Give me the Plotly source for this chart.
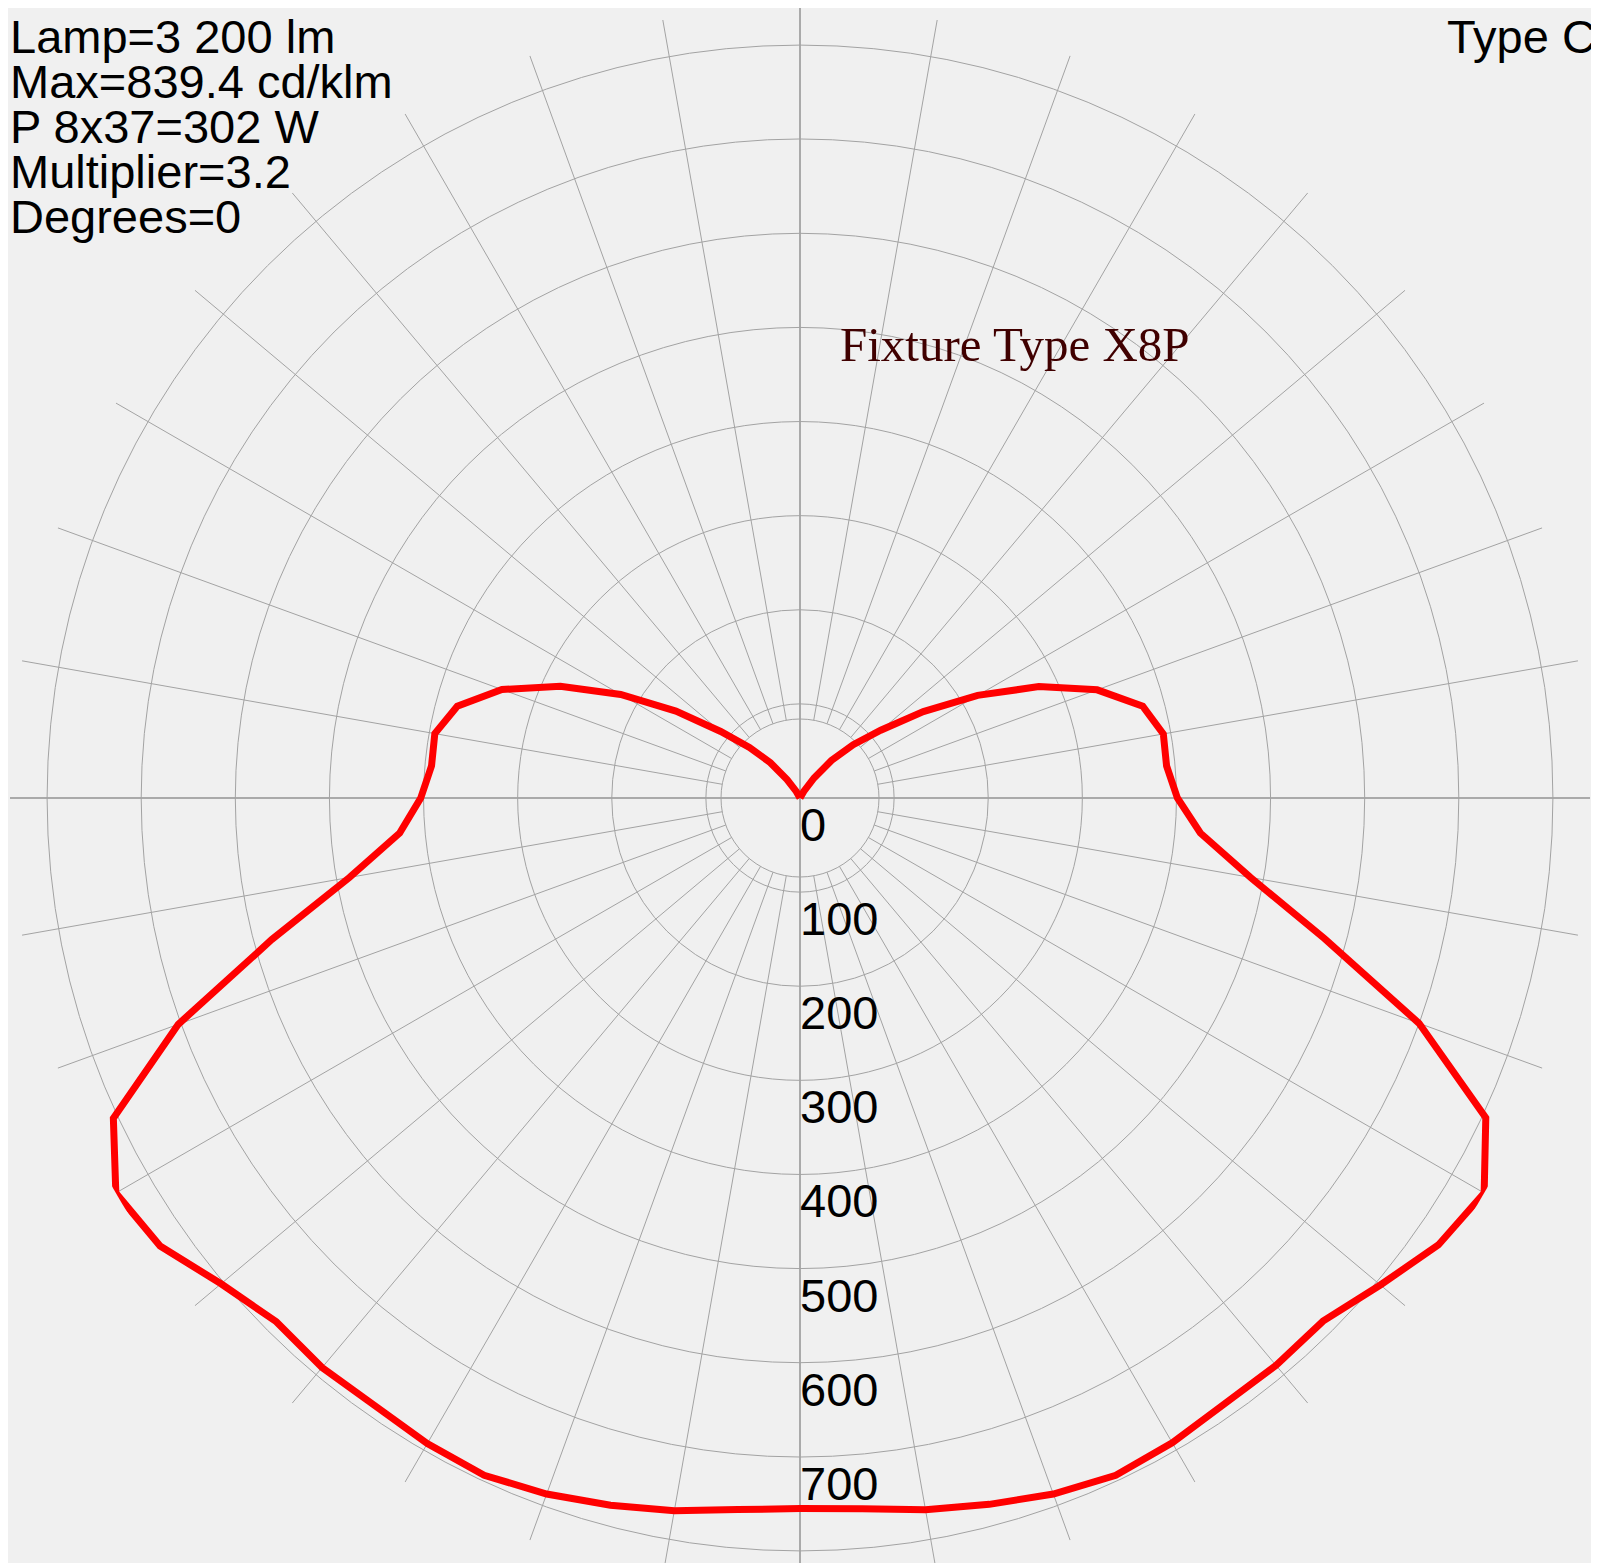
import plotly.graph_objects as go

# intensity (cd/klm), gamma in 5 degree steps
gamma = list(range(0, 185, 5))
c0_plane = [755, 758, 768, 777, 787, 794, 791, 786, 787, 786, 805, 828, 839.4, 804, 700, 577, 486, 427, 401,
            391, 392, 377, 336, 280, 218, 160, 112, 80, 52, 26, 8, 0, 0, 0, 0, 0, 0]
c180_plane = [755, 759, 769, 778, 787, 794, 792, 788, 790, 787, 803, 830, 839.4, 805, 703, 581, 486, 427, 403,
              393, 394, 377, 337, 281, 220, 161, 110, 76, 49, 24, 8, 0, 0, 0, 0, 0, 0]

max_cd = 839.4
ring_values = [100, 200, 300, 400, 500, 600, 700, 800]
label_values = [0, 100, 200, 300, 400, 500, 600, 700]
spoke_angles = [a for a in range(0, 360, 10) if a % 90]

info_lines = ["Lamp=3 200 lm", "Max=839.4 cd/klm", "P 8x37=302 W", "Multiplier=3.2", "Degrees=0"]
info_tops = [0, 45, 90, 135, 180]  # px from the top of the figure
title_text = "Fixture Type X8P"
type_text = "Type C"

# the page adds an 8px body margin, so the figure is a bit taller than the window
W, H = 1599, 1580
R_PX = 790  # polar radius in px, circle centred at (792, 790) of the figure
GRID = "#a3a3a3"
SANS = "Liberation Sans, Arial, sans-serif"

# C180 on the left half (theta 180..360), C0 on the right half (theta 0..180)
theta = [360 - g for g in reversed(gamma)] + gamma
r = list(reversed(c180_plane)) + c0_plane

fig = go.Figure()

# spokes start at 10% of the max, like the original
inner = max_cd / 10
spoke_r, spoke_t = [], []
for a in spoke_angles:
    spoke_r += [inner, max_cd, None]
    spoke_t += [a, a, None]
fig.add_trace(go.Scatterpolar(r=spoke_r, theta=spoke_t, mode="lines",
                              line=dict(color=GRID, width=1), hoverinfo="skip", showlegend=False))

fig.add_trace(go.Scatterpolar(r=r, theta=theta, mode="lines",
                              line=dict(color="#ff0000", width=7), showlegend=False))

# scale labels just under each ring, along the 0 degree direction
px_per_cd = R_PX / max_cd
fig.add_trace(go.Scatterpolar(r=[v + 7.7 / px_per_cd for v in label_values], theta=[0] * len(label_values),
                              mode="text", text=[str(v) for v in label_values],
                              textposition="bottom right",
                              textfont=dict(family=SANS, size=47, color="#000000"),
                              hoverinfo="skip", showlegend=False))

fig.update_layout(
    width=W, height=H,
    margin=dict(l=0, r=0, t=0, b=0),
    paper_bgcolor="#f0f0f0",
    polar=dict(
        domain=dict(x=[(792 - R_PX) / W, (792 + R_PX) / W], y=[1 - (790 + R_PX) / H, 1 - (790 - R_PX) / H]),
        bgcolor="#f0f0f0",
        radialaxis=dict(range=[0, max_cd], tickvals=[inner] + ring_values,
                        showticklabels=False, ticks="", showline=False,
                        gridcolor=GRID, gridwidth=1),
        angularaxis=dict(rotation=-90, direction="counterclockwise",
                         tickvals=[0, 90, 180, 270], showticklabels=False, ticks="",
                         showline=False, gridcolor="#aaaaaa", gridwidth=2),
    ),
)

for line, top in zip(info_lines, info_tops):
    fig.add_annotation(text=line, xref="paper", yref="paper", x=0, y=1 - top / H,
                       xanchor="left", yanchor="top", showarrow=False,
                       font=dict(family=SANS, size=47, color="#000000"))

fig.add_annotation(text=type_text, xref="paper", yref="paper", x=1590 / W, y=1,
                   xanchor="right", yanchor="top", showarrow=False,
                   font=dict(family=SANS, size=47, color="#000000"))

fig.add_annotation(text=title_text, xref="paper", yref="paper", x=830 / W, y=1 - 307 / H,
                   xanchor="left", yanchor="top", showarrow=False,
                   font=dict(family="Liberation Serif, Times New Roman, serif", size=49, color="#400000"))

fig.write_html("out.html")
